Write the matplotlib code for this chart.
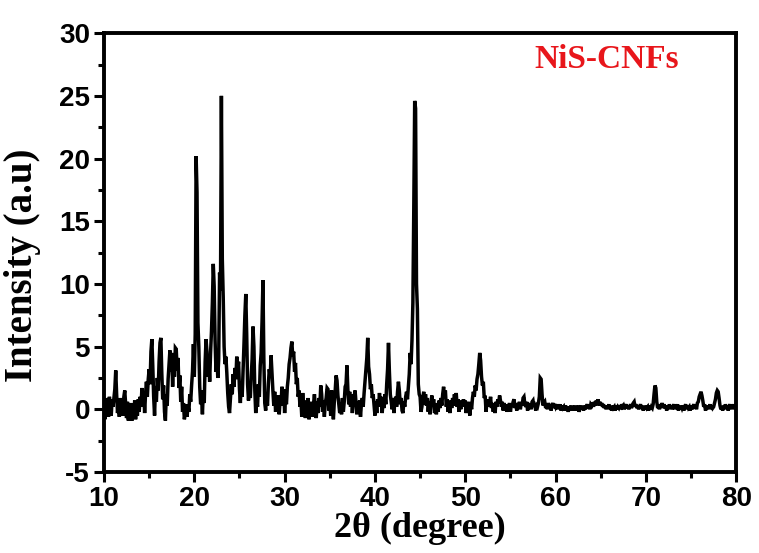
import numpy as np
import matplotlib
matplotlib.use("Agg")
import matplotlib.pyplot as plt
from matplotlib.ticker import MultipleLocator

plt.rcParams["axes.unicode_minus"] = False

# 2-theta grid (0.1 degree steps, 10..80)
two_theta = np.round(np.arange(10.0, 80.0001, 0.1), 1)

# Intensity, one row per degree (x.0 .. x.9)
intensity = [
    0.2, -0.8, 0.9, -0.3, 0.6, -0.6, 1.0, 0.1, -0.5, 0.8,      # 10
    0.2, 0.9, 1.6, 3.1, 1.2, -0.3, 0.7, -0.6, 0.9, 0.0,        # 11
    0.6, -0.5, 1.0, 1.5, 0.4, -0.7, 0.6, -0.9, 0.3, -0.4,      # 12
    0.5, -0.9, 0.2, -0.6, 0.7, -0.8, 0.4, -0.5, 0.8, -0.2,     # 13
    1.0, 0.2, 1.7, 0.5, 1.4, -0.3, 1.2, 2.2, 1.0, 2.4,         # 14
    3.2, 2.0, 4.6, 5.6, 3.5, 1.0, -0.5, 1.8, 0.6, 2.5,         # 15
    1.5, 3.8, 5.3, 5.7, 2.9, 0.8, 1.9, -0.2, -0.9, 1.2,        # 16
    0.3, 2.4, 3.6, 4.7, 3.0, 4.5, 1.8, 4.2, 2.6, 4.9,          # 17
    4.8, 3.1, 4.1, 1.7, 2.7, 0.6, 1.8, -0.2, 0.5, -0.8,        # 18
    -0.3, 0.4, -0.6, 0.3, -0.2, 1.2, 0.6, 1.9, 3.0, 5.2,       # 19
    2.6, 6.0, 20.2, 17.3, 6.9, 5.0, 1.8, 0.4, 1.0, -0.4,       # 20
    1.5, 0.5, 3.8, 5.6, 4.6, 2.6, 3.9, 2.2, 4.5, 6.2,          # 21
    8.5, 11.6, 9.8, 5.5, 3.0, 4.2, 2.5, 4.0, 10.9, 9.5,        # 22
    25.0, 12.0, 9.0, 5.0, 3.6, 4.2, 2.9, 1.3, 0.2, -0.3,       # 23
    0.8, 2.0, 1.2, 2.8, 1.8, 3.3, 2.4, 4.2, 3.0, 3.8,          # 24
    1.6, 0.5, 2.2, 1.0, 3.0, 5.2, 7.5, 9.2, 6.0, 2.0,          # 25
    0.7, 1.8, 0.9, 2.6, 4.0, 6.6, 5.0, 1.5, -0.3, 0.8,         # 26
    0.2, 2.0, 1.0, 3.5, 4.5, 7.0, 10.3, 4.0, 0.5, -0.1,        # 27
    1.2, 0.3, 2.0, 3.2, 2.6, 4.3, 2.9, 1.5, 0.3, 1.4,          # 28
    -0.2, 0.9, 0.0, 1.1, -0.4, 0.8, 0.3, 1.8, 1.0, 1.6,        # 29
    -0.3, 1.0, 0.4, 1.8, 2.5, 3.6, 4.1, 4.9, 5.4, 4.2,         # 30
    4.6, 3.0, 3.7, 2.0, 2.5, 1.0, 1.5, 0.2, 0.8, -0.6,         # 31
    1.3, 0.1, 0.7, -0.7, 0.5, -0.4, 0.9, -0.8, 0.3, -0.2,      # 32
    0.6, -0.6, 0.4, 1.2, 0.1, -0.7, 0.6, -0.3, 0.9, 0.2,       # 33
    1.9, 1.2, -0.2, 0.7, -0.6, 0.5, 0.9, 1.7, 1.6, -0.1,       # 34
    0.8, -0.5, 1.5, 0.2, -0.8, 0.6, 1.5, 2.7, 2.3, 1.1,        # 35
    0.4, -0.3, 0.5, -0.4, 0.9, -0.2, 0.6, 1.8, 2.0, 3.5,       # 36
    1.6, 0.4, 1.4, 0.2, 1.2, -0.3, 0.8, 1.0, 1.5, 0.5,         # 37
    -0.4, 0.6, -0.3, 0.7, -0.6, 0.4, 0.9, 0.2, 1.3, 2.2,       # 38
    3.0, 4.1, 5.7, 3.4, 2.8, 1.6, 2.0, 0.9, 1.2, 0.3,          # 39
    -0.5, 0.6, -0.3, 0.8, 0.2, 1.3, 0.5, 1.0, -0.3, 0.6,       # 40
    0.1, 1.2, 0.4, 2.0, 3.2, 5.3, 3.0, 1.2, 0.6, 0.0,          # 41
    0.9, -0.3, 0.6, 1.0, 0.2, 1.4, 2.2, 1.5, 0.4, 0.9,         # 42
    -0.1, -0.3, 0.6, 0.2, 1.0, 1.4, 0.8, 1.8, 2.8, 4.5,        # 43
    3.6, 5.5, 8.5, 16.0, 24.6, 24.0, 10.0, 8.0, 2.0, 1.2,      # 44
    1.0, -0.2, 0.2, 0.9, 1.4, 0.4, 1.2, 0.3, 0.9, -0.2,        # 45
    0.6, -0.4, 0.5, 1.1, 0.2, 0.8, -0.3, 0.5, -0.4, 0.4,       # 46
    -0.2, 0.7, 0.1, 0.9, 0.3, 1.2, 1.8, 1.0, 1.5, 0.2,         # 47
    0.8, -0.2, 0.4, -0.3, 0.7, 0.1, 0.9, 0.3, 1.2, 0.5,        # 48
    1.3, 0.2, 0.8, -0.2, 0.5, 0.0, 0.7, 0.2, 0.8, 0.3,         # 49
    0.7, -0.3, 0.5, 0.1, 0.6, -0.5, 0.4, 0.0, 0.9, 1.4,        # 50
    1.0, 1.9, 1.5, 2.4, 2.8, 3.6, 4.5, 3.9, 2.6, 1.9,          # 51
    2.2, 0.9, 1.1, -0.2, 0.6, 0.2, 0.8, 0.4, 1.0, 0.1,         # 52
    0.5, -0.2, 0.4, -0.3, 0.6, 0.2, 0.8, 0.5, 1.1, 0.7,        # 53
    0.2, 0.6, -0.1, 0.5, 0.0, 0.4, -0.2, 0.3, 0.1, 0.5,        # 54
    -0.2, 0.4, 0.2, 0.6, 0.8, 0.1, 0.5, -0.1, 0.4, 0.2,        # 55
    0.6, 0.0, 0.5, 0.3, 0.9, 1.0, 0.4, 0.2, 0.6, -0.1,         # 56
    0.5, 0.1, 0.4, 0.0, 0.6, 0.7, 0.2, 0.4, -0.1, 0.3,         # 57
    0.2, 0.5, 1.0, 2.5, 2.4, 1.2, 0.3, 0.5, 0.6, 0.1,          # 58
    0.4, 0.0, 0.5, 0.2, 0.4, -0.1, 0.3, 0.5, 0.1, 0.4,         # 59
    0.2, 0.4, 0.0, 0.3, 0.1, 0.4, -0.1, 0.3, 0.1, 0.2,         # 60
    -0.1, 0.3, 0.0, 0.2, -0.2, 0.2, 0.0, 0.3, -0.1, 0.2,       # 61
    0.0, 0.3, -0.1, 0.2, 0.0, 0.3, -0.2, 0.1, 0.3, 0.0,        # 62
    0.2, -0.1, 0.3, 0.0, 0.2, 0.4, 0.1, 0.3, 0.0, 0.4,         # 63
    0.3, 0.5, 0.2, 0.6, 0.3, 0.7, 0.4, 0.8, 0.3, 0.6,          # 64
    0.3, 0.5, 0.2, 0.4, 0.1, 0.3, 0.0, 0.3, 0.1, 0.4,          # 65
    0.0, 0.2, -0.1, 0.3, 0.1, 0.2, -0.1, 0.3, 0.0, 0.2,        # 66
    0.1, 0.3, 0.0, 0.4, 0.2, 0.3, 0.0, 0.2, 0.4, 0.1,          # 67
    0.3, 0.0, 0.2, 0.4, 0.1, 0.3, 0.5, 0.6, 0.2, 0.4,          # 68
    0.1, 0.3, 0.0, 0.2, 0.4, 0.1, 0.3, -0.1, 0.2, 0.0,         # 69
    0.3, 0.1, 0.2, -0.1, 0.3, 0.0, 0.2, 0.1, 0.4, 1.2,         # 70
    1.9, 1.7, 0.6, 0.1, 0.3, 0.0, 0.4, 0.2, 0.5, 0.1,          # 71
    0.4, 0.1, 0.3, -0.1, 0.3, 0.0, 0.4, 0.1, 0.3, 0.0,         # 72
    0.2, 0.4, 0.0, 0.3, 0.1, 0.4, -0.1, 0.2, 0.0, 0.3,         # 73
    0.1, 0.3, -0.1, 0.2, 0.4, 0.0, 0.3, 0.1, 0.2, -0.1,        # 74
    0.3, 0.0, 0.2, 0.4, 0.1, 0.3, 0.0, 0.5, 0.6, 1.0,          # 75
    1.2, 1.4, 1.1, 0.7, 0.2, 0.4, -0.1, 0.2, 0.0, 0.3,         # 76
    0.1, 0.4, 0.0, 0.3, 0.1, 0.2, 0.5, 0.8, 1.3, 1.5,          # 77
    1.4, 0.9, 0.3, 0.0, 0.2, -0.1, 0.3, 0.0, 0.4, 0.1,         # 78
    0.3, -0.1, 0.2, 0.4, 0.0, 0.3, 0.1, 0.4, 0.0, 0.2,         # 79
    0.1,                                                       # 80
]

x_ticks = [10, 20, 30, 40, 50, 60, 70, 80]
y_ticks = [-5, 0, 5, 10, 15, 20, 25, 30]
sample_label = "NiS-CNFs"

fig = plt.figure(figsize=(7.59, 5.53), dpi=100)
ax = fig.add_axes([0.137, 0.1465, 0.833, 0.7935])

ax.plot(two_theta, intensity, color="black", lw=2.5, solid_joinstyle="miter")

ax.set_xlim(10, 80)
ax.set_ylim(-5, 30)
ax.set_xticks(x_ticks)
ax.set_yticks(y_ticks)
ax.xaxis.set_minor_locator(MultipleLocator(5))
ax.yaxis.set_minor_locator(MultipleLocator(2.5))

for side in ["top", "right", "left", "bottom"]:
    ax.spines[side].set_linewidth(2.8)

ax.tick_params(which="major", direction="out", length=7, width=2.2,
               top=False, right=False, pad=3)
ax.tick_params(which="minor", direction="out", length=4.5, width=2.2,
               top=False, right=False)

for lbl in ax.get_xticklabels() + ax.get_yticklabels():
    lbl.set_fontfamily("Liberation Sans")
    lbl.set_fontweight("bold")
    lbl.set_fontsize(20)

ax.set_xlabel("2θ (degree)", fontfamily="Liberation Serif", fontweight="bold",
              fontsize=26, labelpad=0)
ax.set_ylabel("Intensity (a.u)", fontfamily="Liberation Serif", fontweight="bold",
              fontsize=28)
ax.yaxis.set_label_coords(-0.1, 0.47)

ax.text(0.795, 0.94, sample_label, transform=ax.transAxes, ha="center", va="center",
        color="#e8161b", fontfamily="Liberation Serif", fontweight="bold", fontsize=24)

fig.savefig("out.png", dpi=100)
